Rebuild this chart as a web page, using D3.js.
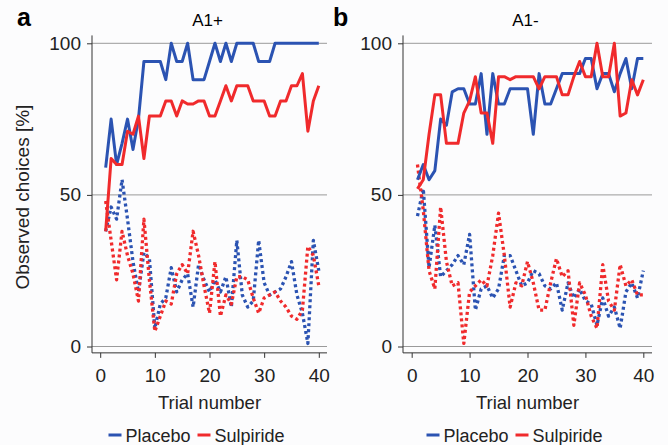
<!DOCTYPE html>
<html>
<head>
<meta charset="utf-8">
<script src="https://cdn.jsdelivr.net/npm/d3@7"></script>
<style>
  body { margin: 0; background: #fcfcfd; }
  svg { font-family: "Liberation Sans", Arial, sans-serif; }
  .axis path, .axis line { stroke: #333; }
  .axis text { font-size: 19px; fill: #222; }
</style>
</head>
<body>
<div id="chart"></div>
<script>
// trials 1..40
var trials = d3.range(1, 41);
var yTicks = [0, 50, 100];
var xTicks = [0, 10, 20, 30, 40];

// A1+ panel, solid = chosen A option, dotted = other option
var aPlaceboSolid = [59,75,60,67,75,65,75,94,94,94,94,88,100,94,94,100,88,88,88,94,
                     100,94,100,94,100,100,100,100,94,94,94,100,100,100,100,100,100,100,100,100];
var aSulpSolid = [38,62,60,60,71,70,76,62,76,76,76,81,81,76,81,80,80,81,81,76,
                  76,81,86,81,86,86,86,81,81,81,76,76,81,81,86,86,90,71,81,86];
var aPlaceboDot = [38,46,42,55,42,28,18,31,29,6,14,16,26,18,22,24,13,27,22,18,
                   22,18,23,13,35,17,13,15,35,21,17,18,19,23,28,17,11,1,35,25];
var aSulpDot = [48,35,22,38,30,24,15,42,22,5,10,15,14,24,27,24,38,30,20,11,
                28,10,17,14,23,23,22,16,11,16,17,18,15,13,10,9,12,33,30,20];

// A1- panel
var bPlaceboSolid = [55,60,55,58,75,73,84,85,85,80,80,90,70,90,80,80,85,85,85,85,
                     70,90,80,80,85,90,90,90,90,95,95,85,90,90,84,90,95,85,95,95];
var bSulpSolid = [52,55,70,83,83,67,67,67,77,81,89,77,77,67,89,89,88,89,89,89,
                  89,85,89,89,89,83,83,89,94,89,89,100,89,89,100,76,77,88,83,88];
var bPlaceboDot = [43,52,26,40,23,25,27,30,27,37,12,19,20,16,19,30,30,25,20,21,
                   25,24,20,19,21,12,21,16,19,15,14,7,16,10,13,6,18,21,16,25];
var bSulpDot = [60,45,25,19,46,28,20,21,1,18,20,22,20,30,44,30,13,21,20,28,
                21,12,12,21,29,23,25,7,21,17,10,6,27,15,12,27,20,22,17,17];

var titles = ["A1+", "A1-"];
var letters = ["a", "b"];
var groups = ["Placebo", "Sulpiride"];
var colors = {Placebo: "#2b53b2", Sulpiride: "#f02a2c"};

var W = 668, H = 445;
var svg = d3.select("#chart").append("svg").attr("width", W).attr("height", H);

// panel positions
var panels = [
  {l: 92, r: 327, letterX: 17, series: [aPlaceboDot, aSulpDot, aPlaceboSolid, aSulpSolid]},
  {l: 403, r: 652, letterX: 333, series: [bPlaceboDot, bSulpDot, bPlaceboSolid, bSulpSolid]}
];
var plotTop = 43.3, plotBottom = 346.5;

panels.forEach(function(p, i) {
  var x = d3.scaleLinear().domain([-1.5, 41.5]).range([p.l, p.r]);
  var y = d3.scaleLinear().domain([0, 100]).range([plotBottom, plotTop]);
  var g = svg.append("g");

  // gridlines
  g.selectAll(".grid").data(yTicks).enter().append("line")
    .attr("x1", p.l).attr("x2", p.r)
    .attr("y1", function(d){ return y(d); }).attr("y2", function(d){ return y(d); })
    .attr("stroke", "#9a9a9a").attr("stroke-width", 1);

  // axes
  var yAxis = d3.axisLeft(y).tickValues(yTicks).tickSize(5).tickPadding(6);
  var gy = g.append("g").attr("class", "axis").attr("transform", "translate(" + p.l + ",0)").call(yAxis);
  gy.select(".domain").attr("d", "M0," + y(102.6) + "V" + y(-2.1));

  var xAxis = d3.axisBottom(x).tickValues(xTicks).tickSize(5).tickPadding(8);
  var gx = g.append("g").attr("class", "axis").attr("transform", "translate(0," + y(-2.1) + ")").call(xAxis);
  gx.select(".domain").attr("d", "M" + p.l + ",0H" + p.r);
  gx.selectAll(".tick text").attr("dy", "0.85em");

  // lines
  var line = d3.line().x(function(d, j){ return x(trials[j]); }).y(function(d){ return y(d); });
  p.series.forEach(function(s, k) {
    var grp = groups[k % 2];
    g.append("path").datum(s)
      .attr("d", line)
      .attr("fill", "none")
      .attr("stroke", colors[grp])
      .attr("stroke-width", k < 2 ? 3.3 : 3)
      .attr("stroke-linejoin", "round")
      .attr("stroke-dasharray", k < 2 ? "3,3" : null);
  });

  // titles
  svg.append("text").attr("x", p.letterX).attr("y", 26)
    .attr("font-size", 25).attr("font-weight", "bold").text(letters[i]);
  svg.append("text").attr("x", (p.l + p.r) / 2 - 2).attr("y", 26)
    .attr("text-anchor", "middle").attr("font-size", 17).text(titles[i]);
  svg.append("text").attr("x", x(20)).attr("y", 409)
    .attr("text-anchor", "middle").attr("font-size", 18.5).attr("fill", "#222").text("Trial number");

  // legend
  var lg = svg.append("g").attr("transform", "translate(" + (x(20) - 101) + ",435)");
  groups.forEach(function(name, k) {
    var off = k * 89;
    lg.append("line").attr("x1", off).attr("x2", off + 13).attr("y1", 0).attr("y2", 0)
      .attr("stroke", colors[name]).attr("stroke-width", 3);
    lg.append("text").attr("x", off + 17).attr("y", 7).attr("font-size", 18).attr("fill", "#222").text(name);
  });
});

svg.append("text")
  .attr("transform", "translate(29,197) rotate(-90)")
  .attr("text-anchor", "middle").attr("font-size", 19).attr("fill", "#222")
  .text("Observed choices [%]");
</script>
</body>
</html>
